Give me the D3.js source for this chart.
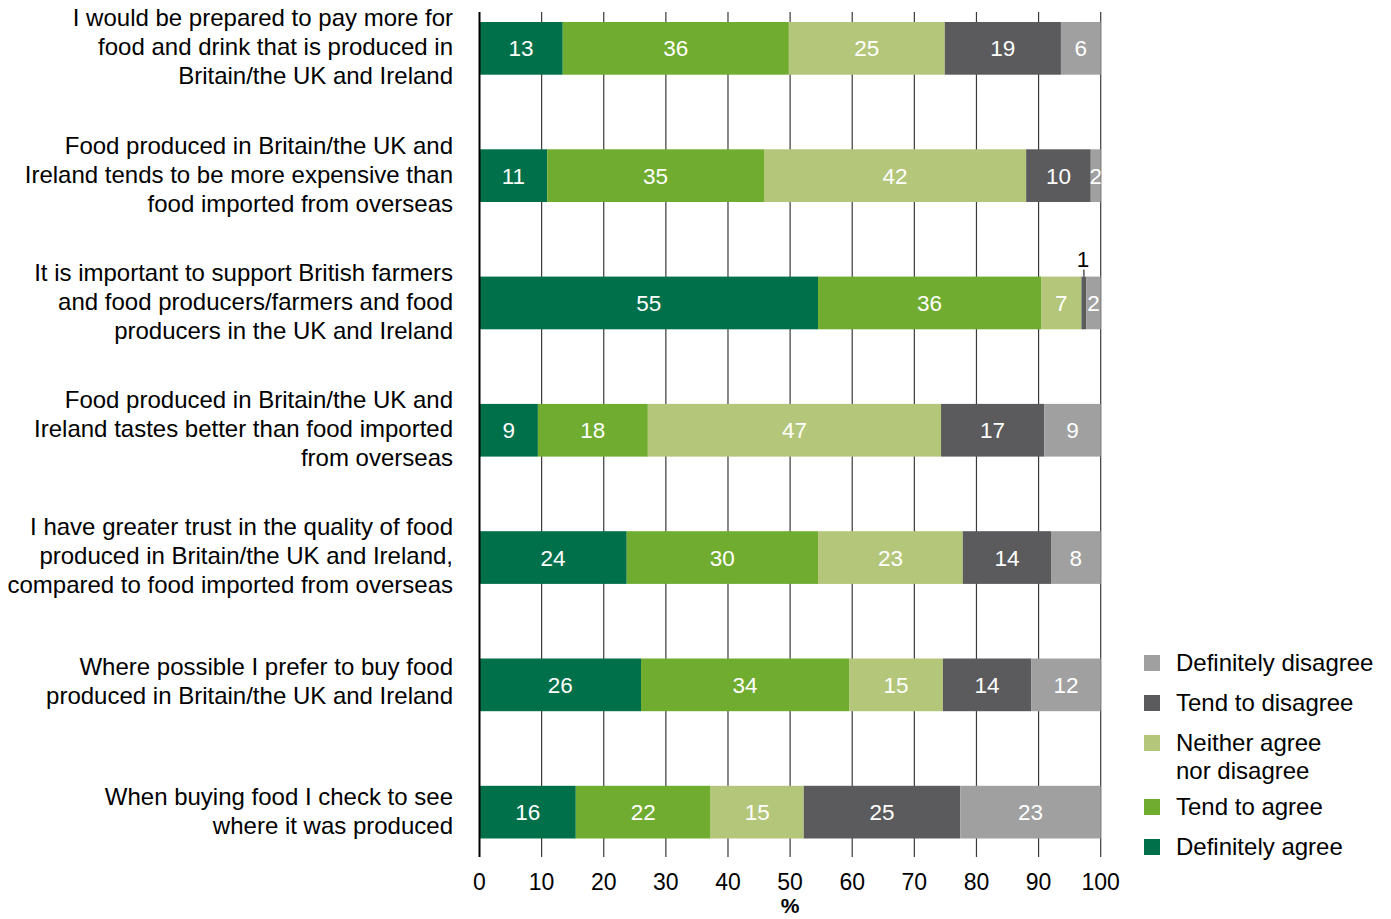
<!DOCTYPE html>
<html><head><meta charset="utf-8">
<script src="https://cdn.jsdelivr.net/npm/d3@7"></script>
<style>body{margin:0;background:#fff;} svg{display:block;font-family:"Liberation Sans",Arial,sans-serif;}</style>
</head><body>
<svg id="chart" width="1391" height="919"></svg>
<script>
const categories = [
  ["I would be prepared to pay more for","food and drink that is produced in","Britain/the UK and Ireland"],
  ["Food produced in Britain/the UK and","Ireland tends to be more expensive than","food imported from overseas"],
  ["It is important to support British farmers","and food producers/farmers and food","producers in the UK and Ireland"],
  ["Food produced in Britain/the UK and","Ireland tastes better than food imported","from overseas"],
  ["I have greater trust in the quality of food","produced in Britain/the UK and Ireland,","compared to food imported from overseas"],
  ["Where possible I prefer to buy food","produced in Britain/the UK and Ireland"],
  ["When buying food I check to see","where it was produced"]
];
const seriesNames = ["Definitely agree","Tend to agree","Neither agree nor disagree","Tend to disagree","Definitely disagree"];
const legendLines = [["Definitely disagree"],["Tend to disagree"],["Neither agree","nor disagree"],["Tend to agree"],["Definitely agree"]];
const definitelyAgree    = [13.4, 10.9, 54.5,  9.4, 23.7, 26.0, 15.5];
const tendToAgree        = [36.4, 34.9, 35.9, 17.7, 30.8, 33.5, 21.7];
const neither            = [25.1, 42.2,  6.5, 47.2, 23.3, 15.1, 15.0];
const tendToDisagree     = [18.7, 10.4,  0.8, 16.6, 14.2, 14.2, 25.2];
const definitelyDisagree = [ 6.4,  1.6,  2.3,  9.1,  8.0, 11.2, 22.6];
const labelsAgreeDef  = [13, 11, 55, 9, 24, 26, 16];
const labelsAgreeTend = [36, 35, 36, 18, 30, 34, 22];
const labelsNeither   = [25, 42, 7, 47, 23, 15, 15];
const labelsDisTend   = [19, 10, 1, 17, 14, 14, 25];
const labelsDisDef    = [6, 2, 2, 9, 8, 12, 23];
const xTicks = [0,10,20,30,40,50,60,70,80,90,100];
const colors = ["#00704a","#6fac2f","#b4c67a","#5b5b5d","#a0a0a0"];

const series = [definitelyAgree, tendToAgree, neither, tendToDisagree, definitelyDisagree];
const labels = [labelsAgreeDef, labelsAgreeTend, labelsNeither, labelsDisTend, labelsDisDef];

const svg = d3.select("#chart");
const x = d3.scaleLinear().domain([0,100]).range([479.5, 1100.7]);
const y = d3.scaleBand().domain(d3.range(categories.length)).range([-15.3, 875.8]).paddingInner(0.586).paddingOuter(0.293);
const gridTop = 12, gridBottom = 857;

// gridlines
svg.append("g").selectAll("line").data(xTicks.slice(1)).join("line")
  .attr("x1", d => x(d)).attr("x2", d => x(d))
  .attr("y1", gridTop).attr("y2", gridBottom)
  .attr("stroke", "#3a3a3a").attr("stroke-width", 1.2);

// stacked data
const rows = categories.map((c, i) => {
  let acc = 0;
  return series.map((s, j) => { const r = {i, j, x0: acc, x1: acc + s[i], label: labels[j][i]}; acc += s[i]; return r; });
});

svg.append("clipPath").attr("id","plotclip").append("rect")
  .attr("x", x(0)).attr("y", 0).attr("width", x(100) - x(0)).attr("height", 919);

const segs = rows.flat();
svg.append("g").selectAll("rect").data(segs).join("rect")
  .attr("x", d => x(d.x0)).attr("width", d => x(d.x1) - x(d.x0))
  .attr("y", d => y(d.i)).attr("height", y.bandwidth())
  .attr("fill", d => colors[d.j]);

// value labels
const lab = svg.append("g").attr("clip-path","url(#plotclip)");
lab.selectAll("text").data(segs.filter(d => (d.x1 - d.x0) >= 1.5)).join("text")
  .attr("x", d => x((d.x0 + d.x1) / 2)).attr("y", d => y(d.i) + y.bandwidth()/2)
  .attr("dy", "0.36em").attr("text-anchor", "middle")
  .attr("fill", "#fff").attr("font-size", 22.5).text(d => d.label);

// small segment label above bar with leader
const small = segs.filter(d => (d.x1 - d.x0) < 1.5);
svg.append("g").selectAll("line").data(small).join("line")
  .attr("x1", d => x((d.x0 + d.x1)/2)).attr("x2", d => x((d.x0 + d.x1)/2))
  .attr("y1", d => y(d.i) - 7).attr("y2", d => y(d.i))
  .attr("stroke", "#000").attr("stroke-width", 1);
svg.append("g").selectAll("text").data(small).join("text")
  .attr("x", d => x((d.x0 + d.x1)/2) - 1).attr("y", d => y(d.i) - 10)
  .attr("text-anchor", "middle").attr("fill", "#000").attr("font-size", 22.5).text(d => d.label);

// y axis line
svg.append("line").attr("x1", x(0)).attr("x2", x(0)).attr("y1", gridTop).attr("y2", gridBottom)
  .attr("stroke", "#000").attr("stroke-width", 2);

// x tick labels
svg.append("g").selectAll("text").data(xTicks).join("text")
  .attr("x", d => x(d)).attr("y", 890).attr("text-anchor", "middle")
  .attr("font-size", 23).attr("fill", "#000").text(d => d);
svg.append("text").attr("x", x(50)).attr("y", 913).attr("text-anchor","middle")
  .attr("font-size", 21).attr("font-weight","bold").text("%");

// category labels
const lineH = 29;
const cg = svg.append("g");
categories.forEach((lines, i) => {
  const cy = y(i) + y.bandwidth()/2 - (lines.length === 2 && i === 5 ? 3 : 1);
  const t = cg.append("text").attr("text-anchor","end").attr("font-size", 24).attr("fill","#000");
  lines.forEach((ln, k) => {
    t.append("tspan").attr("x", 453).attr("y", cy + (k - (lines.length - 1)/2) * lineH).attr("dy","0.33em").text(ln);
  });
});

// legend
const legendY = [663, 703, 743, 807, 847];
const legendColors = [colors[4], colors[3], colors[2], colors[1], colors[0]];
const lg = svg.append("g");
legendLines.forEach((lines, k) => {
  lg.append("rect").attr("x", 1144).attr("y", legendY[k] - 8).attr("width", 16).attr("height", 16).attr("fill", legendColors[k]);
  const t = lg.append("text").attr("font-size", 24).attr("fill", "#000");
  lines.forEach((ln, m) => t.append("tspan").attr("x", 1176).attr("y", legendY[k] + m * 28).attr("dy","0.35em").text(ln));
});
</script>
</body></html>
